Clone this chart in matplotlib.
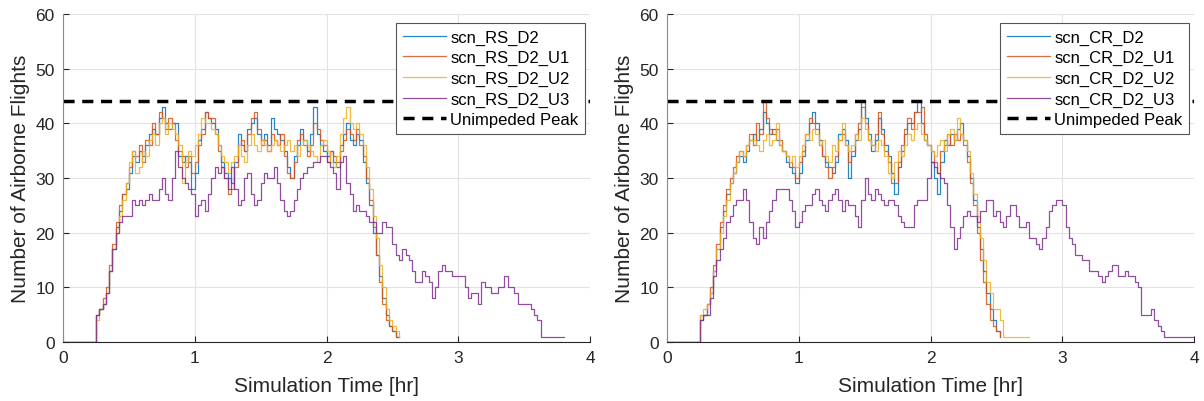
import numpy as np
import matplotlib.pyplot as plt

plt.rcParams['font.family'] = ['Liberation Sans', 'DejaVu Sans']

# sample grid of the traces (hr): start time and spacing of the read-off values
t_start = 0.225
dt = 0.025

# ---- left panel (RS) ----
rs_d2 = [0, 5, 6, 7, 9, 13, 17, 21, 24, 27, 28, 31, 34, 33, 35, 34, 36, 38, 39, 38,
         41, 43, 40, 39, 40, 40, 34, 33, 34, 33, 28, 31, 37, 39, 42, 41, 40, 39, 36, 33,
         31, 30, 29, 33, 38, 36, 35, 39, 40, 41, 38, 37, 38, 36, 41, 39, 38, 37, 35, 32,
         30, 34, 36, 39, 37, 35, 38, 43, 38, 36, 35, 34, 35, 33, 32, 36, 38, 40, 37, 36,
         38, 37, 33, 29, 25, 20, 16, 12, 8, 5, 3, 2, 1, 1]
rs_d2_u1 = [0, 5, 6, 8, 10, 14, 18, 22, 25, 27, 29, 32, 35, 34, 36, 33, 37, 36, 40, 38,
            42, 41, 39, 41, 40, 37, 35, 34, 32, 34, 31, 33, 36, 38, 42, 41, 41, 38, 35, 32,
            30, 27, 28, 32, 36, 37, 35, 38, 41, 42, 39, 36, 37, 35, 38, 37, 36, 38, 34, 31,
            30, 33, 37, 38, 36, 34, 36, 40, 39, 37, 36, 33, 35, 34, 33, 35, 37, 39, 38, 37,
            39, 36, 34, 30, 26, 21, 16, 11, 7, 4, 3, 2, 1, 1]
rs_d2_u2 = [0, 4, 6, 7, 9, 13, 17, 20, 23, 26, 29, 33, 35, 31, 32, 35, 34, 37, 38, 36,
            40, 41, 38, 40, 39, 38, 36, 29, 33, 35, 34, 36, 38, 41, 40, 40, 39, 38, 36, 34,
            33, 31, 33, 34, 36, 34, 33, 36, 38, 36, 35, 37, 36, 35, 36, 37, 36, 35, 36, 37,
            35, 36, 34, 36, 37, 36, 35, 34, 33, 36, 37, 35, 33, 32, 34, 38, 41, 43, 40, 39,
            40, 38, 36, 32, 28, 23, 19, 14, 10, 6, 4, 3, 2, 1]
rs_d2_u3 = [0, 5, 6, 7, 9, 13, 17, 20, 22, 23, 23, 23, 26, 25, 26, 25, 26, 27, 26, 26,
            28, 30, 27, 26, 30, 35, 32, 30, 29, 28, 27, 23, 25, 26, 24, 27, 30, 32, 31, 32,
            30, 28, 32, 28, 25, 26, 30, 31, 27, 25, 26, 29, 31, 30, 30, 32, 29, 26, 24, 23,
            24, 26, 28, 30, 31, 32, 32, 33, 33, 34, 34, 33, 32, 31, 28, 33, 34, 29, 27, 24,
            25, 24, 24, 23, 22, 22, 20, 20, 22, 21, 21, 18, 16, 15, 17, 16, 15, 13, 11, 11,
            13, 12, 11, 8, 10, 13, 14, 13, 13, 12, 12, 12, 12, 10, 8, 9, 9, 7, 11, 10,
            10, 9, 9, 10, 10, 12, 10, 10, 9, 7, 7, 7, 7, 6, 5, 4, 1, 1, 1, 1,
            1, 1, 1, 1]

# ---- right panel (CR) ----
cr_d2 = [0, 4, 5, 7, 9, 13, 17, 21, 24, 27, 29, 31, 33, 34, 33, 35, 37, 38, 37, 39,
         42, 40, 38, 39, 37, 36, 35, 33, 32, 31, 29, 31, 34, 37, 40, 42, 40, 37, 34, 33,
         32, 31, 33, 38, 39, 37, 30, 34, 37, 39, 44, 41, 38, 35, 37, 41, 39, 36, 34, 31,
         27, 32, 35, 38, 40, 40, 42, 44, 40, 37, 36, 33, 30, 27, 33, 37, 36, 38, 37, 39,
         40, 37, 34, 30, 26, 21, 17, 13, 9, 6, 4, 2, 1]
cr_d2_u1 = [0, 5, 5, 7, 10, 14, 18, 22, 25, 28, 30, 32, 34, 35, 34, 36, 38, 36, 40, 38,
            44, 41, 39, 38, 39, 37, 35, 34, 33, 32, 30, 33, 35, 38, 41, 40, 39, 36, 34, 32,
            30, 32, 34, 37, 38, 36, 33, 35, 38, 40, 43, 40, 37, 36, 38, 42, 38, 35, 33, 29,
            29, 33, 36, 39, 41, 39, 42, 42, 43, 38, 36, 35, 33, 31, 35, 36, 38, 36, 38, 37,
            38, 36, 33, 29, 25, 20, 15, 11, 7, 4, 3, 2, 1]
cr_d2_u2 = [0, 5, 6, 7, 9, 13, 17, 20, 23, 26, 29, 31, 33, 35, 34, 36, 37, 37, 36, 35,
            37, 38, 36, 37, 40, 36, 35, 34, 33, 34, 32, 34, 36, 38, 37, 39, 38, 36, 37, 34,
            33, 36, 35, 37, 40, 36, 35, 36, 38, 37, 41, 39, 37, 36, 35, 37, 36, 34, 31, 30,
            33, 35, 34, 36, 38, 37, 39, 40, 38, 37, 36, 35, 34, 36, 37, 35, 38, 39, 37, 41,
            38, 37, 35, 31, 27, 23, 19, 15, 11, 9, 6, 6, 4, 1, 1, 1, 1, 1, 1, 1,
            1, 1]
cr_d2_u3 = [0, 4, 5, 5, 8, 12, 15, 17, 19, 22, 23, 25, 26, 26, 28, 26, 22, 19, 18, 21,
            19, 22, 24, 26, 28, 28, 28, 28, 26, 24, 21, 22, 24, 25, 25, 27, 28, 26, 25, 24,
            26, 27, 28, 26, 24, 26, 25, 25, 23, 21, 26, 30, 27, 26, 28, 27, 26, 25, 26, 26,
            25, 23, 22, 21, 21, 21, 25, 26, 26, 26, 30, 33, 32, 31, 30, 29, 25, 21, 17, 19,
            21, 23, 24, 23, 23, 22, 24, 24, 26, 26, 23, 24, 22, 21, 23, 25, 25, 23, 21, 21,
            22, 19, 19, 18, 17, 19, 21, 24, 25, 26, 26, 25, 21, 19, 18, 16, 16, 15, 15, 13,
            13, 13, 12, 11, 12, 13, 14, 14, 12, 12, 13, 12, 12, 11, 10, 5, 5, 5, 6, 4,
            3, 2, 1, 1, 1, 1, 1, 1, 1, 1, 1, 1]

unimpeded_peak = 44

panels = [
    (['scn_RS_D2', 'scn_RS_D2_U1', 'scn_RS_D2_U2', 'scn_RS_D2_U3'],
     [rs_d2, rs_d2_u1, rs_d2_u2, rs_d2_u3]),
    (['scn_CR_D2', 'scn_CR_D2_U1', 'scn_CR_D2_U2', 'scn_CR_D2_U3'],
     [cr_d2, cr_d2_u1, cr_d2_u2, cr_d2_u3]),
]

colors = ['#0072BD', '#D95319', '#EDB120', '#7E2F8E']

fig = plt.figure(figsize=(12.04, 4.02), dpi=100)
lefts = [63 / 1204, 667 / 1204]

for (names, series), left in zip(panels, lefts):
    ax = fig.add_axes([left, 59 / 402, 527 / 1204, 328 / 402])
    for name, vals, c in zip(names, series, colors):
        t = t_start + dt * np.arange(len(vals))
        # flat zero before the first arrival
        t = np.concatenate([[0.0], t])
        v = np.concatenate([[0], vals])
        ax.step(t, v, where='post', color=c, lw=0.9, alpha=0.85, label=name)
    ax.axhline(unimpeded_peak, color='black', lw=2.5, ls=(0, (3.2, 2.2)),
               label='Unimpeded Peak')

    ax.set_xlim(0, 4)
    ax.set_ylim(0, 60)
    ax.set_xticks([0, 1, 2, 3, 4])
    ax.set_yticks(range(0, 61, 10))
    ax.grid(True, color='#e3e3e3', lw=0.8)
    ax.set_axisbelow(True)
    for s in ['top', 'right']:
        ax.spines[s].set_visible(False)
    ax.spines['left'].set_color('#8c8c8c')
    ax.spines['bottom'].set_color('#262626')
    ax.tick_params(direction='in', length=4, labelsize=12.5, colors='#262626', pad=6)
    ax.set_xlabel('Simulation Time [hr]', fontsize=15, color='#262626', labelpad=8)
    ax.set_ylabel('Number of Airborne Flights', fontsize=15, color='#262626', labelpad=4)

    leg = ax.legend(loc='upper right', bbox_to_anchor=(0.9905, 0.9726),
                    borderaxespad=0, fontsize=12, frameon=True, fancybox=False,
                    edgecolor='#555555', framealpha=1, handlelength=2.6,
                    labelspacing=0.33, handletextpad=0.25, borderpad=0.4)
    leg.get_frame().set_linewidth(0.8)

fig.savefig('out.png', dpi=100)
